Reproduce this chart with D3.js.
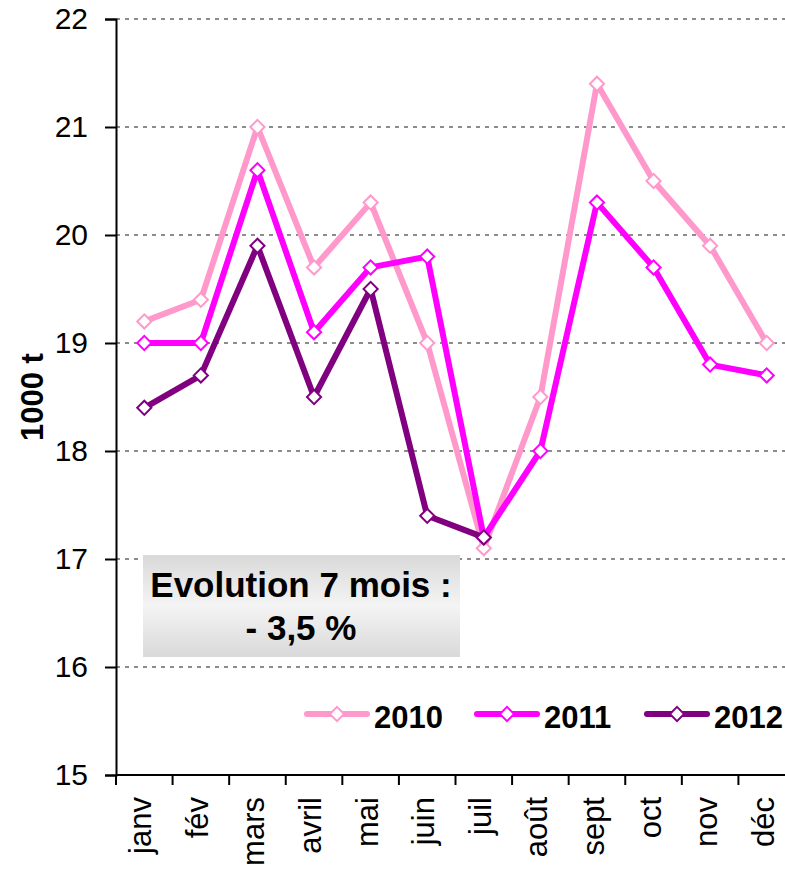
<!DOCTYPE html>
<html>
<head>
<meta charset="utf-8">
<script src="https://cdn.jsdelivr.net/npm/d3@7"></script>
<style>
  html, body { margin: 0; padding: 0; background: #fff; }
  svg { display: block; font-family: "Liberation Sans", Arial, sans-serif; }
</style>
</head>
<body>
<svg id="chart" width="785" height="870"></svg>
<script>
// Monthly volumes, thousand tonnes
const months = ["janv", "fév", "mars", "avril", "mai", "juin", "juil", "août", "sept", "oct", "nov", "déc"];
const values2010 = [19.2, 19.4, 21.0, 19.7, 20.3, 19.0, 17.1, 18.5, 21.4, 20.5, 19.9, 19.0];
const values2011 = [19.0, 19.0, 20.6, 19.1, 19.7, 19.8, 17.2, 18.0, 20.3, 19.7, 18.8, 18.7];
const values2012 = [18.4, 18.7, 19.9, 18.5, 19.5, 17.4, 17.2];
const yTicks = [15, 16, 17, 18, 19, 20, 21, 22];
const seriesNames = ["2010", "2011", "2012"];
const seriesColors = ["#ff99cc", "#ff00ff", "#800080"];
const noteLines = ["Evolution 7 mois :", "- 3,5 %"];

const series = [values2010, values2011, values2012].map((vals, i) => ({
  name: seriesNames[i], color: seriesColors[i], values: vals
}));

const svg = d3.select("#chart");
const m = { left: 116, top: 19, right: 795, bottom: 775 };

const x = d3.scaleBand().domain(months).range([m.left, m.right]);
const y = d3.scaleLinear().domain([15, 22]).range([m.bottom, m.top]);
const cx = d => x(d) + x.bandwidth() / 2;

// Horizontal dashed gridlines
svg.append("g").selectAll("line")
  .data(yTicks.filter(t => t > 15))
  .join("line")
  .attr("x1", m.left).attr("x2", 785)
  .attr("y1", d => y(d)).attr("y2", d => y(d))
  .attr("stroke", "#8c8c8c").attr("stroke-width", 2)
  .attr("stroke-dasharray", "4,5");

// Annotation box with grey gradient
const defs = svg.append("defs");
const grad = defs.append("linearGradient").attr("id", "noteFill")
  .attr("x1", 0).attr("y1", 0).attr("x2", 0).attr("y2", 1);
grad.append("stop").attr("offset", "0%").attr("stop-color", "#d9d9d9");
grad.append("stop").attr("offset", "50%").attr("stop-color", "#f4f4f4");
grad.append("stop").attr("offset", "100%").attr("stop-color", "#d9d9d9");

const note = svg.append("g");
note.append("rect")
  .attr("x", 143).attr("y", 555).attr("width", 317).attr("height", 102)
  .attr("fill", "url(#noteFill)");
note.selectAll("text").data(noteLines).join("text")
  .attr("x", 301).attr("y", (d, i) => 597 + i * 43)
  .attr("text-anchor", "middle")
  .attr("font-size", 35).attr("font-weight", "bold").attr("fill", "#000")
  .text(d => d);

// Y axis
const yAxis = svg.append("g")
  .attr("transform", `translate(${m.left},0)`)
  .call(d3.axisLeft(y).tickValues(yTicks).tickSize(11).tickPadding(17).tickFormat(d3.format("d")));
yAxis.select(".domain").attr("stroke", "#000").attr("stroke-width", 2);
yAxis.selectAll(".tick line").attr("stroke", "#000").attr("stroke-width", 2);
yAxis.selectAll(".tick text").attr("font-size", 30).attr("fill", "#000")
  .attr("font-family", "Liberation Sans, Arial, sans-serif");

// X axis: ticks at category boundaries
const xAxisG = svg.append("g").attr("transform", `translate(0,${m.bottom})`);
xAxisG.append("line")
  .attr("x1", m.left).attr("x2", 785).attr("y1", 0).attr("y2", 0)
  .attr("stroke", "#000").attr("stroke-width", 2);
xAxisG.selectAll("line.tk")
  .data(months)
  .join("line").attr("class", "tk")
  .attr("x1", d => x(d)).attr("x2", d => x(d))
  .attr("y1", 0).attr("y2", 10)
  .attr("stroke", "#000").attr("stroke-width", 2);
xAxisG.selectAll("text")
  .data(months)
  .join("text")
  .attr("transform", d => `translate(${cx(d) + 7},${22}) rotate(-90)`)
  .attr("text-anchor", "end")
  .attr("font-size", 31).attr("fill", "#000")
  .text(d => d);

// Y axis title
svg.append("text")
  .attr("transform", "translate(43,397) rotate(-90)")
  .attr("text-anchor", "middle")
  .attr("font-size", 31).attr("font-weight", "bold").attr("fill", "#000")
  .text("1000 t");

// Lines and markers
const line = d3.line()
  .x((d, i) => cx(months[i]))
  .y(d => y(d));

const marker = d3.symbol().type(d3.symbolSquare).size(100);

series.forEach(s => {
  const g = svg.append("g");
  g.append("path")
    .attr("d", line(s.values))
    .attr("fill", "none")
    .attr("stroke", s.color).attr("stroke-width", 6)
    .attr("stroke-linejoin", "round");
  g.selectAll("path.mk")
    .data(s.values)
    .join("path").attr("class", "mk")
    .attr("d", marker)
    .attr("transform", (d, i) => `translate(${cx(months[i])},${y(d)}) rotate(45)`)
    .attr("fill", "#fff").attr("stroke", s.color).attr("stroke-width", 2);
});

// Legend
const legendX = [307, 477, 647];
const legend = svg.append("g");
series.forEach((s, i) => {
  const lg = legend.append("g").attr("transform", `translate(${legendX[i]},714)`);
  lg.append("line").attr("x1", 0).attr("x2", 60).attr("y1", 0).attr("y2", 0)
    .attr("stroke", s.color).attr("stroke-width", 6).attr("stroke-linecap", "round");
  lg.append("path")
    .attr("d", marker)
    .attr("transform", "translate(30,0) rotate(45)")
    .attr("fill", "#fff").attr("stroke", s.color).attr("stroke-width", 2);
  lg.append("text").attr("x", 67).attr("y", 14)
    .attr("font-size", 31).attr("font-weight", "bold").attr("fill", "#000")
    .text(s.name);
});
</script>
</body>
</html>
